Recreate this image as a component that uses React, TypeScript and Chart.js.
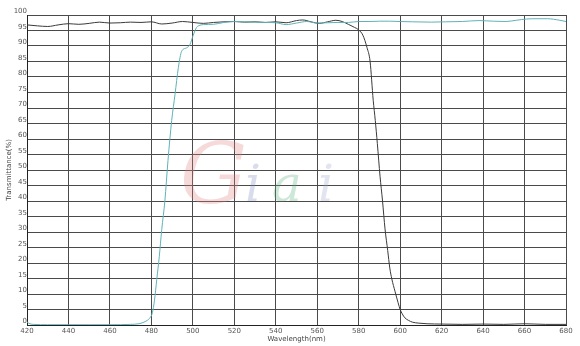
import React, { useEffect, useRef } from "react";
import { Chart, registerables } from "chart.js";

Chart.register(...registerables);

// ---- Axis definitions ----
const X_MIN = 420;
const X_MAX = 680;
const X_STEP = 20;
const Y_MIN = 0;
const Y_MAX = 100;
const Y_STEP = 5;
const X_TITLE = "Wavelength(nm)";
const Y_TITLE = "Transmittance(%)";

// ---- Black curve (band-pass long edge) ----
const blackWavelength = [
  420, 425, 430, 435, 440, 445, 450, 455, 460, 465, 470, 475, 480, 485, 490, 495,
  500, 505, 510, 515, 520, 525, 530, 535, 540, 545, 550, 553, 557, 561, 565, 569,
  572, 575, 578, 580, 582, 584, 585.5, 587, 588, 589, 590.3, 591.5, 592.7, 594,
  595, 596, 597.5, 599, 600, 601, 602.3, 604, 606, 609, 613, 620, 630, 640, 650,
  660, 670, 680,
];
const blackTransmittance = [
  96.8, 96.5, 96.3, 96.8, 97.2, 97.0, 97.3, 97.7, 97.4, 97.5, 97.7, 97.6, 97.8, 97.1, 97.4, 97.9,
  97.6, 97.3, 97.6, 97.8, 97.9, 97.7, 97.8, 97.6, 97.8, 97.5, 98.2, 98.4, 97.8, 97.3, 97.8, 98.3,
  97.9, 97.0, 96.0, 95.2, 93.5, 89.5, 85.0, 72.5, 66.0, 58.5, 48.0, 40.0, 31.0, 24.0,
  18.4, 14.8, 10.9, 7.2, 5.0, 3.6, 2.3, 1.5, 0.9, 0.6, 0.4, 0.3, 0.2, 0.3, 0.2,
  0.4, 0.2, 0.2,
];

// ---- Cyan curve (long-pass short edge) ----
const cyanWavelength = [
  420, 421, 423, 430, 440, 450, 460, 470, 474, 476, 478, 479.3, 480.5, 481.5, 482.6,
  483.8, 485, 486.5, 488, 489.8, 491.4, 493, 494.6, 497, 498.6, 500.2, 501.8, 503, 505,
  510, 515, 520, 525, 530, 535, 540, 545, 550, 555, 560, 565, 570, 575, 580, 585,
  590, 595, 600, 606, 615, 622, 630, 638, 645, 651, 656, 661, 666, 671, 677, 680,
];
const cyanTransmittance = [
  1.0, 0.5, 0.2, 0.1, 0.1, 0.1, 0.1, 0.2, 0.4, 0.8, 1.5, 2.3, 4.0, 8.0, 14.7,
  22.0, 30.8, 40.0, 53.0, 66.0, 74.4, 83.0, 88.3, 89.4, 90.5, 93.5, 96.0, 96.6, 96.9,
  97.0, 97.6, 97.9, 97.8, 97.7, 97.6, 97.5, 96.9, 97.4, 97.9, 97.4, 97.5, 97.6, 97.6, 97.9, 97.9,
  98.0, 98.0, 97.9, 97.8, 97.7, 97.8, 97.9, 98.2, 98.0, 97.9, 98.3, 98.7, 98.8, 98.8, 98.3, 97.9,
];

// ---- Watermark ----
const WATERMARK_LETTERS = ["G", "i", "a", "i"];

const toPoints = (xs: number[], ys: number[]) => xs.map((x, i) => ({ x, y: ys[i] }));

const watermarkPlugin = {
  id: "giaiWatermark",
  beforeDatasetsDraw(chart: any) {
    const { ctx } = chart;
    ctx.save();
    ctx.textBaseline = "alphabetic";
    const styles = [
      { font: 'italic 84px "DejaVu Serif"', color: "rgba(225,130,130,0.30)", x: 180, y: 203 },
      { font: 'italic 50px "DejaVu Serif"', color: "rgba(130,140,195,0.30)", x: 245, y: 201 },
      { font: 'italic 50px "DejaVu Serif"', color: "rgba(90,175,125,0.30)", x: 272, y: 201 },
      { font: 'italic 50px "DejaVu Serif"', color: "rgba(160,170,205,0.30)", x: 318, y: 201 },
    ];
    WATERMARK_LETTERS.forEach((ch, i) => {
      const s = styles[i];
      ctx.font = s.font;
      ctx.fillStyle = s.color;
      ctx.fillText(ch, s.x, s.y);
    });
    ctx.restore();
  },
};

export default function App() {
  const canvasRef = useRef<HTMLCanvasElement | null>(null);

  useEffect(() => {
    document.body.style.margin = "0";
    const canvas = canvasRef.current;
    if (!canvas) return;
    const tickFont = { family: '"DejaVu Sans", sans-serif', size: 7 };
    const chart = new Chart(canvas, {
      type: "line",
      data: {
        datasets: [
          {
            label: "Long-pass",
            data: toPoints(cyanWavelength, cyanTransmittance),
            borderColor: "#5fb2b6",
            borderWidth: 1,
            pointRadius: 0,
            fill: false,
            cubicInterpolationMode: "monotone",
          },
          {
            label: "Band edge",
            data: toPoints(blackWavelength, blackTransmittance),
            borderColor: "#3a3a3a",
            borderWidth: 1,
            pointRadius: 0,
            fill: false,
            cubicInterpolationMode: "monotone",
          },
        ],
      },
      options: {
        animation: false,
        responsive: false,
        maintainAspectRatio: false,
        layout: { padding: { top: 15, right: 14, left: 0, bottom: 0 } },
        plugins: { legend: { display: false }, tooltip: { enabled: false } },
        scales: {
          x: {
            type: "linear",
            min: X_MIN,
            max: X_MAX,
            ticks: {
              stepSize: X_STEP,
              font: tickFont,
              color: "#555",
              padding: 2,
              maxRotation: 0,
              autoSkip: false,
            },
            grid: { color: "#4a4a4a", lineWidth: 1, drawTicks: false },
            border: { color: "#222", width: 1 },
            title: {
              display: true,
              text: X_TITLE,
              font: tickFont,
              color: "#444",
              padding: { top: 0, bottom: 3 },
            },
            afterFit: (s: any) => {
              s.height = 21;
            },
          },
          y: {
            type: "linear",
            min: Y_MIN,
            max: Y_MAX,
            ticks: {
              stepSize: Y_STEP,
              font: tickFont,
              color: "#555",
              padding: 0,
              labelOffset: -3.5,
            },
            grid: { color: "#4a4a4a", lineWidth: 1, drawTicks: false },
            border: { color: "#222", width: 1 },
            title: {
              display: true,
              text: Y_TITLE,
              font: tickFont,
              color: "#444",
              padding: { top: 5, bottom: 0 },
            },
            afterFit: (s: any) => {
              s.width = 27;
            },
          },
        },
      },
      plugins: [watermarkPlugin],
    } as any);
    return () => chart.destroy();
  }, []);

  return (
    <div style={{ width: 580, height: 346, background: "#fff" }}>
      <canvas ref={canvasRef} width={580} height={346} style={{ display: "block", width: 580, height: 346 }} />
    </div>
  );
}
